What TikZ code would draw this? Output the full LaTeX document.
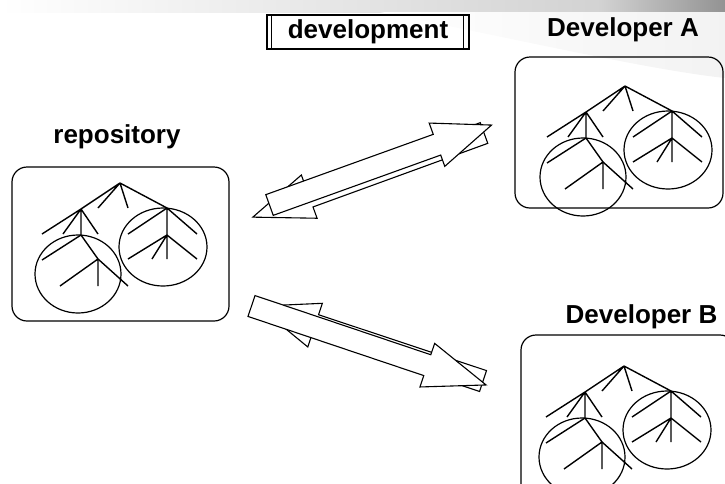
\documentclass[tikz,border=0pt]{standalone}
\usepackage{fontspec}
\setmainfont{Liberation Sans}

\newcommand*{\picw}{725}
\newcommand*{\pich}{483}
\newcommand*{\shaftw}{11}
\newcommand*{\headw}{23}

% one tree with its two circled subtrees, root at #1
\newcommand*{\drawtree}[1]{%
\begin{scope}[shift={#1}]
	\draw[branch] (0,0) -- (-39,26) (0,0) -- (-22,25) (0,0) -- (8,25) (0,0) -- (47,25);
	\draw[branch] (-39,26) -- (-78,51) (-39,26) -- (-57,51) (-39,26) -- (-39,52) (-39,26) -- (-22,51);
	\draw[branch] (-39,52) -- (-78,77) (-39,52) -- (-22,76) -- (8,103);
	\draw[branch] (-22,76) -- (-60,103) (-22,76) -- (-22,103);
	\draw[branch] (47,25) -- (8,51) (47,25) -- (47,52) (47,25) -- (77,51);
	\draw[branch] (47,52) -- (8,76) (47,52) -- (32,76) (47,52) -- (47,76) (47,52) -- (77,76);
	\draw[subtree] (-42,91) ellipse [x radius=43, y radius=39];
	\draw[subtree] (43,64) ellipse [x radius=44, y radius=39];
\end{scope}}

% hollow block arrow: tail centre #1, angle #2, length #3, head length #4
\newcommand*{\blockarrow}[4]{%
	\filldraw[hollow,shift={#1},rotate=#2] (0,\shaftw) -- ({#3-#4},\shaftw) -- ({#3-#4},\headw)
		-- (#3,0) -- ({#3-#4},-\headw) -- ({#3-#4},-\shaftw) -- (0,-\shaftw) -- cycle;}

\begin{document}
\begin{tikzpicture}
[
	x=1pt,
	y=-1pt,
	branch/.style={line width=1.4pt},
	subtree/.style={line width=1.2pt},
	box/.style={draw,line width=1.2pt,rounded corners=15pt},
	hollow/.style={draw=black,fill=white,line width=1.1pt,line join=miter},
	heading/.style={font=\fontsize{26}{31}\selectfont\bfseries,inner sep=0pt,anchor=base},
	procbox/.style={draw,line width=1.1pt,minimum width=202pt,minimum height=34pt,inner sep=0pt,
		font=\fontsize{26}{31}\selectfont\bfseries}
]

	\useasboundingbox (0,0) rectangle (\picw,\pich);
	\clip (0,0) rectangle (\picw,\pich);

	% slide background band
	\shade[left color=white,right color=gray!35] (0,0) rectangle (600,12);
	\shade[left color=gray!35,right color=gray!85] (600,0) rectangle (\picw,12);
	\shade[left color=white,right color=gray!10] (380,12) -- (\picw,12) -- (\picw,78)
		.. controls (650,70) and (520,40) .. (380,12);

	% repository and working copies
	\draw[box] (12,167) rectangle (229,321);
	\draw[box] (515,57) rectangle (723,208);
	\draw[box] (521,335) rectangle (735,500);

	\drawtree{(120,183)}
	\drawtree{(625,86)}
	\drawtree{(624,366)}

	% transfers
	\blockarrow{(484,133)}{200}{246}{60}
	\blockarrow{(269.5,205)}{19.8}{236}{58}
	\blockarrow{(483,381)}{161.6}{237}{60}
	\blockarrow{(251.5,306)}{-18.6}{247.5}{62}

	% labels
	\node[heading] (repo) at (117,143) {repository};
	\node[heading] (devA) at (623,36) {Developer A};
	\node[heading] (devB) at (641.5,323) {Developer B};
	\node[procbox] (devbox) at (368,32) {development};
	\draw[line width=1.1pt] ([xshift=5pt]devbox.north west) -- ([xshift=5pt]devbox.south west);
	\draw[line width=1.1pt] ([xshift=-6pt]devbox.north east) -- ([xshift=-6pt]devbox.south east);

\end{tikzpicture}
\end{document}
